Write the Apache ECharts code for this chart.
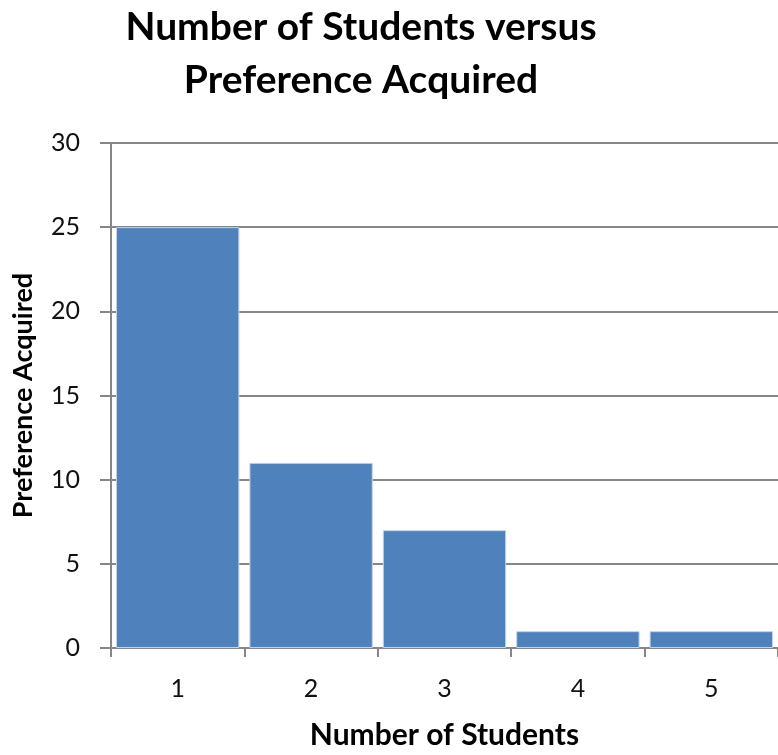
<!DOCTYPE html>
<html>
<head>
<meta charset="utf-8">
<script src="https://cdn.jsdelivr.net/npm/echarts@6/dist/echarts.min.js"></script>
<style>html,body{margin:0;padding:0;background:#fff;overflow:hidden;}#c{width:778px;height:755px;}</style>
</head>
<body>
<div id="c"></div>
<script>
const categories = ['1', '2', '3', '4', '5'];
const values = [25, 11, 7, 1, 1];
const titleText = 'Number of Students versus\nPreference Acquired';
const xName = 'Number of Students';
const yName = 'Preference Acquired';

const chart = echarts.init(document.getElementById('c'), null, {renderer: 'canvas'});
const font = 'Lato, "Open Sans", sans-serif';
chart.setOption({
  animation: false,
  backgroundColor: '#fff',
  title: {
    text: titleText,
    left: 356, top: -4, textAlign: 'center',
    textStyle: {fontFamily: font, fontWeight: 'bold', fontSize: 39, lineHeight: 53, color: '#000'}
  },
  grid: {left: 111, right: 0, top: 143, height: 509, containLabel: false},
  xAxis: {
    type: 'category', data: categories,
    name: xName, nameLocation: 'middle', nameGap: 72,
    nameTextStyle: {fontFamily: font, fontWeight: 'bold', fontSize: 30, color: '#000'},
    axisLine: {lineStyle: {color: '#868686', width: 2}},
    axisTick: {show: true, length: 9, alignWithLabel: false, lineStyle: {color: '#868686', width: 2}},
    axisLabel: {fontFamily: font, fontSize: 25, color: '#111', margin: 28}
  },
  yAxis: {
    type: 'value', min: 0, max: 30, interval: 5,
    name: yName, nameLocation: 'middle', nameGap: 74, nameRotate: 90,
    nameTextStyle: {fontFamily: font, fontWeight: 'bold', fontSize: 27, color: '#000'},
    axisLine: {show: true, lineStyle: {color: '#868686', width: 2}},
    axisTick: {show: true, length: 11, lineStyle: {color: '#868686', width: 2}},
    axisLabel: {fontFamily: font, fontSize: 25, color: '#111', margin: 31},
    splitLine: {lineStyle: {color: '#868686', width: 2}}
  },
  series: [{
    type: 'bar', data: values,
    barCategoryGap: '7.5%',
    itemStyle: {color: '#4f81bd', borderColor: '#c5d4ea', borderWidth: 1}
  }]
});
</script>
</body>
</html>
